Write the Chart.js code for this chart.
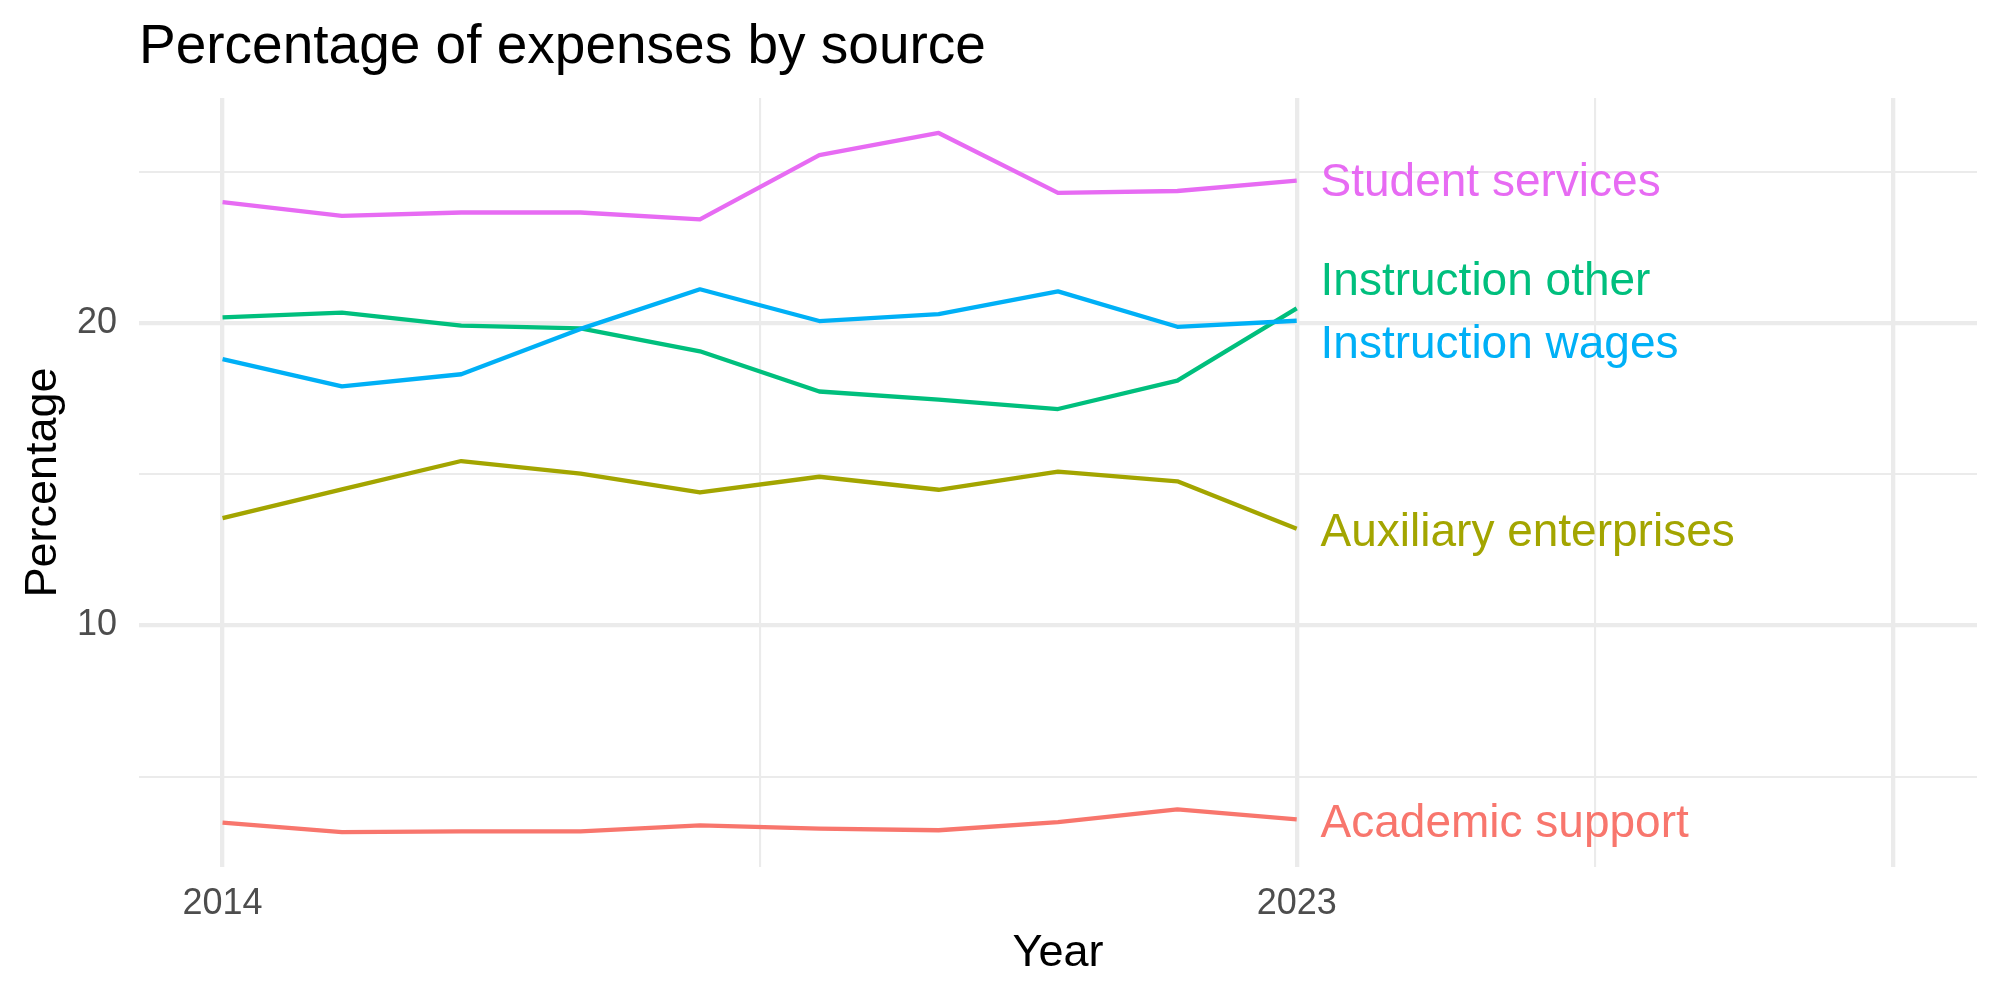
<!DOCTYPE html>
<html>
<head>
<meta charset="utf-8">
<script src="https://cdn.jsdelivr.net/npm/chart.js@4"></script>
<style>
  html, body { margin: 0; padding: 0; background: #ffffff; }
  #wrap { width: 2000px; height: 1000px; }
</style>
</head>
<body>
<div id="wrap"><canvas id="c" width="2000" height="1000"></canvas></div>
<script>
// ---- Data ----
const years = [2014, 2015, 2016, 2017, 2018, 2019, 2020, 2021, 2022, 2023];
const seriesNames = ["Academic support", "Auxiliary enterprises", "Instruction other", "Instruction wages", "Student services"];
const academicSupport      = [3.48, 3.17, 3.19, 3.19, 3.39, 3.28, 3.23, 3.50, 3.92, 3.59];
const auxiliaryEnterprises = [13.55, 14.50, 15.44, 15.02, 14.40, 14.92, 14.49, 15.09, 14.77, 13.20];
const instructionOther     = [20.19, 20.35, 19.92, 19.83, 19.07, 17.74, 17.47, 17.16, 18.10, 20.49];
const instructionWages     = [18.81, 17.91, 18.31, 19.81, 21.12, 20.07, 20.30, 21.05, 19.88, 20.08];
const studentServices      = [24.00, 23.55, 23.66, 23.66, 23.43, 25.56, 26.29, 24.31, 24.37, 24.71];
const seriesColors = ["#F8766D", "#A3A500", "#00BF7D", "#00B0F6", "#E76BF3"];
// end-label positions (value units, after repelling)
const labelYears  = [2023.2, 2023.2, 2023.2, 2023.2, 2023.2];
const labelValues = [3.52, 13.16, 21.44, 19.35, 24.71];
// axis breaks
const xMajorBreaks = [2014, 2023, 2028];
const xMinorBreaks = [2018.5, 2025.5];
const xTickLabels  = {2014: "2014", 2023: "2023"};
const xLimits = [2014, 2028];
const yMajorBreaks = [10, 20];
const yMinorBreaks = [5, 15, 25];
const yTickLabels  = {10: "10", 20: "20"};

const allSeries = [academicSupport, auxiliaryEnterprises, instructionOther, instructionWages, studentServices];

// ggplot-style 5% expansion
const allVals = allSeries.flat();
const yLo = Math.min(...allVals), yHi = Math.max(...allVals);
const yPad = (yHi - yLo) * 0.05;
const xPad = (xLimits[1] - xLimits[0]) * 0.05;

const FONT = "'Liberation Sans', Arial, Helvetica, sans-serif";
Chart.defaults.font.family = FONT;

const datasets = allSeries.map((vals, i) => ({
  label: seriesNames[i],
  data: years.map((y, j) => ({x: y, y: vals[j]})),
  borderColor: seriesColors[i],
  backgroundColor: seriesColors[i],
  borderWidth: 4.3,
  pointRadius: 0,
  tension: 0,
  fill: false,
  borderJoinStyle: 'round',
  order: allSeries.length - i
}));

const textPlugin = {
  id: 'textPlugin',
  afterDraw(chart) {
    const ctx = chart.ctx;
    const ca = chart.chartArea;
    const xs = chart.scales.x, ys = chart.scales.y;
    ctx.save();
    // Title
    ctx.fillStyle = '#000000';
    ctx.font = `55px ${FONT}`;
    ctx.textAlign = 'left';
    ctx.textBaseline = 'alphabetic';
    ctx.fillText('Percentage of expenses by source', ca.left, 63);
    // X axis title
    ctx.font = `45px ${FONT}`;
    ctx.textAlign = 'center';
    ctx.fillText('Year', (ca.left + ca.right) / 2, 966);
    // Y axis title
    ctx.save();
    ctx.translate(56, (ca.top + ca.bottom) / 2);
    ctx.rotate(-Math.PI / 2);
    ctx.textAlign = 'center';
    ctx.textBaseline = 'alphabetic';
    ctx.fillText('Percentage', 0, 0);
    ctx.restore();
    // End labels
    ctx.font = `46px ${FONT}`;
    ctx.textAlign = 'left';
    ctx.textBaseline = 'middle';
    seriesNames.forEach((name, i) => {
      ctx.fillStyle = seriesColors[i];
      ctx.fillText(name, xs.getPixelForValue(labelYears[i]), ys.getPixelForValue(labelValues[i]) + 3);
    });
    ctx.restore();
  }
};

new Chart(document.getElementById('c'), {
  type: 'line',
  data: { datasets },
  options: {
    responsive: false,
    animation: false,
    devicePixelRatio: 1,
    layout: { padding: { top: 98, right: 23, bottom: 0, left: 0 } },
    plugins: { legend: { display: false }, tooltip: { enabled: false }, title: { display: false } },
    scales: {
      x: {
        type: 'linear',
        min: xLimits[0] - xPad,
        max: xLimits[1] + xPad,
        afterBuildTicks: (s) => { s.ticks = [...xMajorBreaks, ...xMinorBreaks].sort((a,b)=>a-b).map(v => ({value: v})); },
        afterFit: (s) => { s.height = 133; },
        border: { display: false },
        grid: {
          color: '#EBEBEB',
          drawTicks: false,
          lineWidth: (c) => (c.tick && xMajorBreaks.includes(c.tick.value)) ? 4.3 : 2.1
        },
        ticks: {
          autoSkip: false,
          maxRotation: 0,
          minRotation: 0,
          padding: 19,
          color: '#4D4D4D',
          font: { size: 36, lineHeight: 1 },
          callback: (v) => xTickLabels[v] || ''
        }
      },
      y: {
        type: 'linear',
        min: yLo - yPad,
        max: yHi + yPad,
        afterBuildTicks: (s) => { s.ticks = [...yMinorBreaks, ...yMajorBreaks].sort((a,b)=>a-b).map(v => ({value: v})); },
        afterFit: (s) => { s.width = 139; },
        border: { display: false },
        grid: {
          color: '#EBEBEB',
          drawTicks: false,
          lineWidth: (c) => (c.tick && yMajorBreaks.includes(c.tick.value)) ? 4.3 : 2.1
        },
        ticks: {
          autoSkip: false,
          padding: 22,
          color: '#4D4D4D',
          font: { size: 36, lineHeight: 1 },
          callback: (v) => yTickLabels[v] || ''
        }
      }
    }
  },
  plugins: [textPlugin]
});
</script>
</body>
</html>
